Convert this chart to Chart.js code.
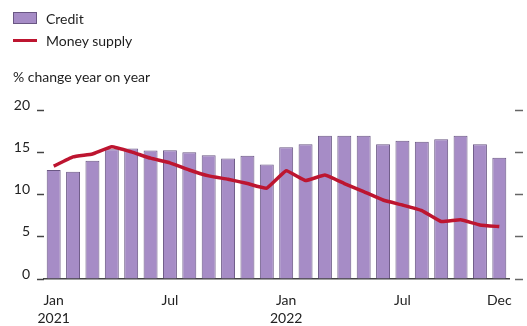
<!DOCTYPE html>
<html>
<head>
<meta charset="utf-8">
<script src="https://cdn.jsdelivr.net/npm/chart.js@4.4.1/dist/chart.umd.min.js"></script>
<style>
    html, body { margin: 0; padding: 0; background: #fff; }
    .wrap { position: relative; width: 527px; height: 326px; font-family: Lato, "Noto Sans", sans-serif; color: #1e1e1e; }
    .wrap canvas { position: absolute; left: 0; top: 0; }
    .legend { position: absolute; left: 13px; top: 7px; font-size: 14px; }
    .legend-item { display: flex; align-items: center; height: 22px; }
    .swatch { width: 24px; margin-right: 9px; box-sizing: border-box; }
    .note { position: absolute; left: 13px; top: 68px; font-size: 14px; }
</style>
</head>
<body>
<div class="wrap">
    <canvas id="creditChart" width="527" height="326"></canvas>
    <div class="legend" id="legend"></div>
    <div class="note">% change year on year</div>
</div>
<script>
// Monthly, Jan 2021 - Dec 2022
const months = ['Jan', 'Feb', 'Mar', 'Apr', 'May', 'Jun', 'Jul', 'Aug', 'Sep', 'Oct', 'Nov', 'Dec',
                'Jan', 'Feb', 'Mar', 'Apr', 'May', 'Jun', 'Jul', 'Aug', 'Sep', 'Oct', 'Nov', 'Dec'];
const tickLabels = [['Jan', '2021'], '', '', '', '', '', 'Jul', '', '', '', '', '',
                    ['Jan', '2022'], '', '', '', '', '', 'Jul', '', '', '', '', 'Dec'];

const credit = [12.9, 12.7, 14.0, 15.35, 15.45, 15.2, 15.25, 15.0, 14.65, 14.25, 14.6, 13.55,
                15.6, 15.95, 16.95, 16.95, 16.95, 15.95, 16.35, 16.25, 16.55, 16.95, 15.95, 14.35];
const moneySupply = [13.35, 14.45, 14.8, 15.65, 15.05, 14.3, 13.75, 12.9, 12.2, 11.8, 11.3, 10.75,
                     12.8, 11.65, 12.3, 11.3, 10.35, 9.35, 8.75, 8.1, 6.8, 7.0, 6.4, 6.2];

const creditColor = '#a68cc6';
const creditBorder = '#6a5784';
const moneyColor = '#bd1530';

const chart = new Chart(document.getElementById('creditChart'), {
    data: {
        labels: months,
        datasets: [{
            type: 'line',
            label: 'Money supply',
            data: moneySupply,
            borderColor: moneyColor,
            borderWidth: 3.5,
            pointRadius: 0,
            tension: 0.1,
            order: 0
        }, {
            type: 'bar',
            label: 'Credit',
            data: credit,
            backgroundColor: creditColor,
            borderColor: creditBorder,
            borderWidth: 1,
            categoryPercentage: 1,
            barPercentage: 0.72,
            order: 1
        }]
    },
    options: {
        responsive: false,
        animation: false,
        layout: { padding: { top: 110, left: 0, right: 0, bottom: 0 } },
        plugins: {
            legend: { display: false },
            tooltip: { enabled: false }
        },
        scales: {
            x: {
                offset: true,
                grid: { display: false, drawTicks: false },
                border: { color: '#444', width: 1.5 },
                ticks: {
                    autoSkip: false,
                    maxRotation: 0,
                    padding: 12,
                    color: '#222',
                    font: { family: 'Lato', size: 14, lineHeight: 1.3 },
                    callback: (v, i) => tickLabels[i]
                },
                afterFit: s => { s.height = 47; }
            },
            y: {
                min: 0,
                max: 20,
                border: { display: false },
                grid: {
                    drawOnChartArea: false,
                    tickLength: 12,
                    tickBorderDash: [7, 5],
                    tickBorderDashOffset: 7,
                    tickColor: '#444',
                    tickWidth: 1.5
                },
                ticks: {
                    stepSize: 5,
                    padding: 2,
                    labelOffset: -5,
                    color: '#222',
                    font: { family: 'Lato', size: 14 }
                },
                afterFit: s => { s.width = 44; }
            },
            y2: {
                position: 'right',
                min: 0,
                max: 20,
                border: { display: false },
                grid: {
                    drawOnChartArea: false,
                    tickLength: 14,
                    tickBorderDash: [8, 6],
                    tickBorderDashOffset: 8,
                    tickColor: '#666',
                    tickWidth: 1.5
                },
                ticks: { stepSize: 5, callback: () => '' },
                afterFit: s => { s.width = 18; }
            }
        }
    }
});

// HTML legend built from the datasets (bars first, as in the original)
function buildLegend(chart) {
    const box = document.getElementById('legend');
    const sets = chart.data.datasets.slice().reverse();
    sets.forEach(ds => {
        const item = document.createElement('div');
        item.className = 'legend-item';
        const sw = document.createElement('span');
        sw.className = 'swatch';
        if (ds.type === 'bar') {
            sw.style.height = '12px';
            sw.style.background = ds.backgroundColor;
            sw.style.border = '1px solid ' + ds.borderColor;
        } else {
            sw.style.height = '3px';
            sw.style.background = ds.borderColor;
        }
        const txt = document.createElement('span');
        txt.textContent = ds.label;
        item.appendChild(sw);
        item.appendChild(txt);
        box.appendChild(item);
    });
}
buildLegend(chart);
</script>
</body>
</html>
